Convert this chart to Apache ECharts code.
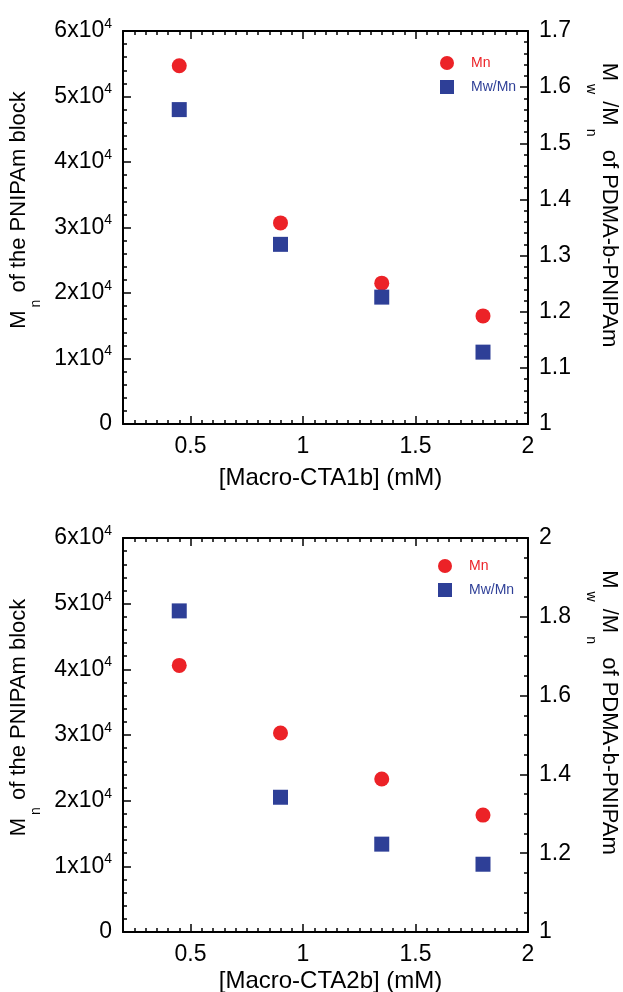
<!DOCTYPE html>
<html>
<head>
<meta charset="utf-8">
<script src="https://cdn.jsdelivr.net/npm/echarts@6/dist/echarts.min.js"></script>
<style>
  html, body { margin: 0; padding: 0; background: #fff; }
  #chart { width: 623px; height: 992px; }
</style>
</head>
<body>
<div id="chart"></div>
<script>
// data
var concentration = [0.45, 0.9, 1.35, 1.8];
var mnCTA1b = [54700, 30700, 21500, 16500];
var pdiCTA1b = [1.56, 1.32, 1.226, 1.128];
var mnCTA2b = [40600, 30300, 23300, 17800];
var pdiCTA2b = [1.815, 1.342, 1.223, 1.172];
var xTickValues = [0.5, 1, 1.5, 2];
var xTitles = ['[Macro-CTA1b] (mM)', '[Macro-CTA2b] (mM)'];

var FONT = '"Liberation Sans", Arial, sans-serif';
var RED = '#ec2227';
var BLUE = '#2e3f97';

var chart = echarts.init(document.getElementById('chart'));

var grids = [
    { left: 123, right: 95, top: 31, height: 393, containLabel: false, outerBoundsMode: 'none' },
    { left: 123, right: 95, top: 538, height: 394, containLabel: false, outerBoundsMode: 'none' }
];
var rightAxes = [
    { max: 1.7, interval: 0.1, split: 5 },
    { max: 2, interval: 0.2, split: 4 }
];
var xNameGaps = [42, 37];

function pairs(xs, ys) {
    return xs.map(function (x, i) { return [x, ys[i]]; });
}

var tickStyle = { color: '#000', width: 1.5 };
var xAxes = [], yAxes = [], series = [];

[0, 1].forEach(function (g) {
    // bottom: minor ticks + labels
    xAxes.push({
        type: 'value', gridIndex: g, position: 'bottom', min: 0.2, max: 2, interval: 0.05,
        axisLine: { lineStyle: { color: '#000', width: 2 } },
        axisTick: { inside: true, length: 4, lineStyle: tickStyle },
        splitLine: { show: false },
        axisLabel: {
            customValues: xTickValues, margin: 11, color: '#000', fontSize: 23, fontFamily: FONT,
            formatter: function (v) { return String(v); }
        },
        name: xTitles[g], nameLocation: 'middle', nameGap: xNameGaps[g],
        nameTextStyle: { color: '#000', fontSize: 24, fontFamily: FONT, padding: [0, 0, 0, 10] }
    });
    // bottom: major ticks
    xAxes.push({
        type: 'value', gridIndex: g, position: 'bottom', min: 0.2, max: 2,
        axisLine: { show: false }, splitLine: { show: false }, axisLabel: { show: false },
        axisTick: { inside: true, length: 8, customValues: xTickValues, lineStyle: tickStyle }
    });
    // top mirror
    xAxes.push({
        type: 'value', gridIndex: g, position: 'top', min: 0.2, max: 2, interval: 0.05,
        axisLine: { lineStyle: { color: '#000', width: 2 } },
        axisTick: { inside: true, length: 4, lineStyle: tickStyle },
        splitLine: { show: false }, axisLabel: { show: false }
    });
    xAxes.push({
        type: 'value', gridIndex: g, position: 'top', min: 0.2, max: 2,
        axisLine: { show: false }, splitLine: { show: false }, axisLabel: { show: false },
        axisTick: { inside: true, length: 8, customValues: xTickValues, lineStyle: tickStyle }
    });

    yAxes.push({
        type: 'value', gridIndex: g, position: 'left', min: 0, max: 60000, interval: 10000,
        axisLine: { show: true, lineStyle: { color: '#000', width: 2 } },
        axisTick: { show: true, inside: true, length: 8, lineStyle: tickStyle },
        minorTick: { show: true, splitNumber: 5, length: 4, lineStyle: tickStyle },
        splitLine: { show: false },
        axisLabel: {
            margin: 11, color: '#000', fontSize: 23, fontFamily: FONT,
            formatter: function (v) {
                if (v === 0) return '{b|0}';
                return '{b|' + (v / 10000) + 'x10}{sup|4}';
            },
            rich: {
                b: { fontSize: 23, fontFamily: FONT, color: '#000' },
                sup: { fontSize: 14, fontFamily: FONT, color: '#000', padding: [0, 0, 14, 0] }
            }
        },
        name: '{m|M}{sub|n}{e| of the PNIPAm block}',
        nameLocation: 'middle', nameRotate: 90, nameGap: 75,
        nameTextStyle: {
            rich: {
                m: { fontSize: 22, fontFamily: FONT, color: '#000', padding: [0, 0, 0, 35] },
                e: { fontSize: 22, fontFamily: FONT, color: '#000' },
                sub: { fontSize: 14, fontFamily: FONT, color: '#000', padding: [36, 1, 0, 3] }
            }
        }
    });
    var ra = rightAxes[g];
    yAxes.push({
        type: 'value', gridIndex: g, position: 'right', min: 1, max: ra.max, interval: ra.interval,
        axisLine: { show: true, lineStyle: { color: '#000', width: 2 } },
        axisTick: { show: true, inside: true, length: 8, lineStyle: tickStyle },
        minorTick: { show: true, splitNumber: ra.split, length: 4, lineStyle: tickStyle },
        splitLine: { show: false },
        axisLabel: {
            margin: 11, color: '#000', fontSize: 23, fontFamily: FONT,
            formatter: function (v) { return String(+v.toFixed(2)); }
        },
        name: '{m|M}{sub|w}{m| /M}{sub|n}{e|  of PDMA-b-PNIPAm}',
        nameLocation: 'middle', nameRotate: -90, nameGap: 56,
        nameTextStyle: {
            rich: {
                m: { fontSize: 22, fontFamily: FONT, color: '#000' },
                e: { fontSize: 22, fontFamily: FONT, color: '#000', padding: [0, 45, 0, 0] },
                sub: { fontSize: 14, fontFamily: FONT, color: '#000', padding: [36, 1, 0, 3] }
            }
        }
    });
});

var mnSets = [mnCTA1b, mnCTA2b];
var pdiSets = [pdiCTA1b, pdiCTA2b];
[0, 1].forEach(function (g) {
    series.push({
        name: 'Mn', type: 'scatter', symbol: 'circle', symbolSize: 15,
        xAxisIndex: g * 4, yAxisIndex: g * 2,
        itemStyle: { color: RED, opacity: 1 },
        data: pairs(concentration, mnSets[g])
    });
    series.push({
        name: 'Mw/Mn', type: 'scatter', symbol: 'rect', symbolSize: 15,
        xAxisIndex: g * 4, yAxisIndex: g * 2 + 1,
        itemStyle: { color: BLUE, opacity: 1 },
        data: pairs(concentration, pdiSets[g])
    });
});

function legendAt(top, left) {
    return {
        top: top, left: left, orient: 'vertical', selectedMode: false, padding: 0,
        itemWidth: 14, itemHeight: 14, itemGap: 10,
        textStyle: { fontSize: 14, lineHeight: 14, fontFamily: FONT, padding: [0, 0, 0, 12] },
        data: [
            { name: 'Mn', icon: 'circle', textStyle: { color: RED } },
            { name: 'Mw/Mn', icon: 'rect', textStyle: { color: BLUE } }
        ]
    };
}

chart.setOption({
    backgroundColor: '#fff',
    animation: false,
    grid: grids,
    xAxis: xAxes,
    yAxis: yAxes,
    legend: [legendAt(56, 440), legendAt(559, 438)],
    series: series
});
</script>
</body>
</html>
